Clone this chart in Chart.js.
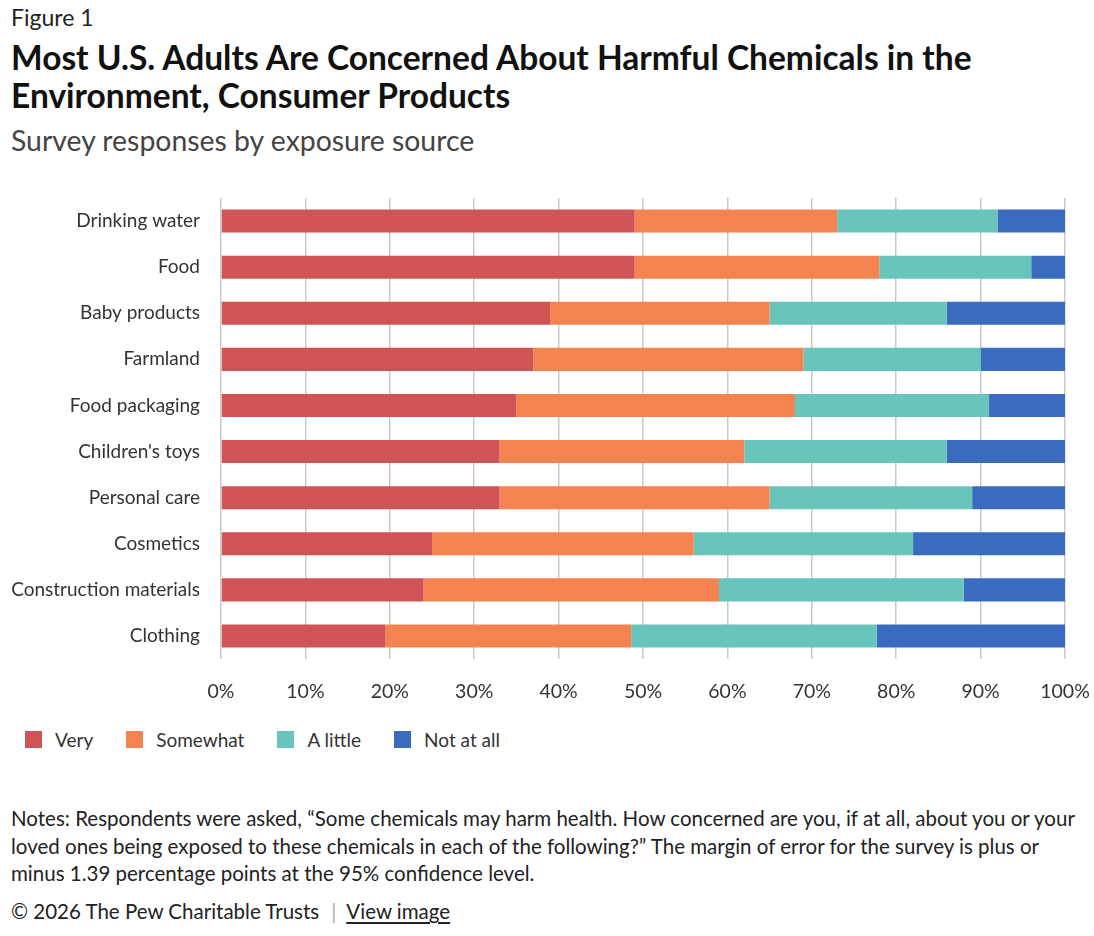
<!DOCTYPE html>
<html>
<head>
<meta charset="utf-8">
<script src="https://cdn.jsdelivr.net/npm/chart.js@4.4.1/dist/chart.umd.min.js"></script>
<style>
  html, body { margin: 0; padding: 0; background: #fff; }
  body { width: 1094px; height: 936px; position: relative; overflow: hidden; font-family: Lato, "Open Sans", sans-serif; color: #222; }
  .fig { position: absolute; left: 11px; top: 3px; font-size: 23px; color: #222; }
  .title { position: absolute; left: 11px; top: 38px; font-size: 33.5px; font-weight: 700; line-height: 38px; color: #111; }
  .subtitle { position: absolute; left: 11px; top: 123px; font-size: 28.4px; color: #444; }
  #wrap { position: absolute; left: 0; top: 190px; width: 1094px; height: 520px; }
  .legend { position: absolute; left: 25px; top: 728px; display: flex; font-size: 19px; color: #333; }
  .legend .item { display: flex; align-items: center; margin-right: 33px; }
  .legend .sw { width: 17px; height: 17px; margin-right: 13px; }
  .notes { position: absolute; left: 11px; top: 805px; width: 1080px; font-size: 20.5px; line-height: 27.5px; color: #222; }
  .foot { position: absolute; left: 11px; top: 899px; font-size: 20.5px; color: #222; }
  .foot .sep { color: #aaa; margin: 0 10px 0 12px; }
  .foot u { text-underline-offset: 3px; }
</style>
</head>
<body>
<div class="fig">Figure 1</div>
<div class="title">Most U.S. Adults Are Concerned About Harmful Chemicals in the<br>Environment, Consumer Products</div>
<div class="subtitle">Survey responses by exposure source</div>
<div id="wrap"><canvas id="chart"></canvas></div>
<div class="legend" id="legend"></div>
<div class="notes">Notes: Respondents were asked, “Some chemicals may harm health. How concerned are you, if at all, about you or your loved ones being exposed to these chemicals in each of the following?” The margin of error for the survey is plus or minus 1.39 percentage points at the 95% confidence level.</div>
<div class="foot">© 2026 The Pew Charitable Trusts<span class="sep">|</span><u>View image</u></div>
<script>
// Exposure sources, top to bottom
const categories = ["Drinking water", "Food", "Baby products", "Farmland", "Food packaging",
  "Children's toys", "Personal care", "Cosmetics", "Construction materials", "Clothing"];

// Share of respondents (%) by level of concern
const very      = [49, 49, 39, 37, 35, 33, 33, 25, 24, 19.5];
const somewhat  = [24, 29, 26, 32, 33, 29, 32, 31, 35, 29.1];
const aLittle   = [19, 18, 21, 21, 23, 24, 24, 26, 29, 29.1];
const notAtAll  = [8, 4, 14, 10, 9, 14, 11, 18, 12, 22.3];

const seriesNames = ["Very", "Somewhat", "A little", "Not at all"];
const seriesColors = ["#d05455", "#f5834f", "#68c5bb", "#3b6bbf"];
const xTicks = [0, 10, 20, 30, 40, 50, 60, 70, 80, 90, 100];

const seriesValues = [very, somewhat, aLittle, notAtAll];
const datasets = seriesNames.map((name, i) => ({
  label: name,
  data: seriesValues[i],
  backgroundColor: seriesColors[i],
  borderWidth: 0,
  barPercentage: 1,
  categoryPercentage: 0.5
}));

// HTML legend
const legendEl = document.getElementById('legend');
seriesNames.forEach((name, i) => {
  const item = document.createElement('div');
  item.className = 'item';
  const sw = document.createElement('span');
  sw.className = 'sw';
  sw.style.background = seriesColors[i];
  const t = document.createElement('span');
  t.textContent = name;
  item.appendChild(sw);
  item.appendChild(t);
  legendEl.appendChild(item);
});

new Chart(document.getElementById('chart'), {
  type: 'bar',
  data: { labels: categories, datasets },
  options: {
    indexAxis: 'y',
    responsive: true,
    maintainAspectRatio: false,
    animation: false,
    layout: { padding: { top: 8, right: 29, left: 0, bottom: 0 } },
    plugins: { legend: { display: false }, tooltip: { enabled: false } },
    scales: {
      x: {
        stacked: true,
        min: 0,
        max: 100,
        afterBuildTicks: (scale) => { scale.ticks = xTicks.map(v => ({ value: v })); },
        afterFit: (scale) => {
          scale.height = 51;
          scale.paddingLeft = 0;
          scale.paddingRight = 0;
        },
        grid: { color: '#c9c9c9', lineWidth: 1.5, drawTicks: false },
        border: { display: false },
        ticks: {
          padding: 21,
          color: '#333',
          font: { family: 'Lato', size: 19.5 },
          callback: (v) => v + '%'
        }
      },
      y: {
        stacked: true,
        afterFit: (scale) => {
          scale.width = 221;
          scale.paddingTop = 0;
          scale.paddingBottom = 0;
        },
        grid: { display: false, drawTicks: false },
        border: { display: false },
        ticks: {
          padding: 21,
          color: '#333',
          font: { family: 'Lato', size: 19 }
        }
      }
    }
  }
});
</script>
</body>
</html>
